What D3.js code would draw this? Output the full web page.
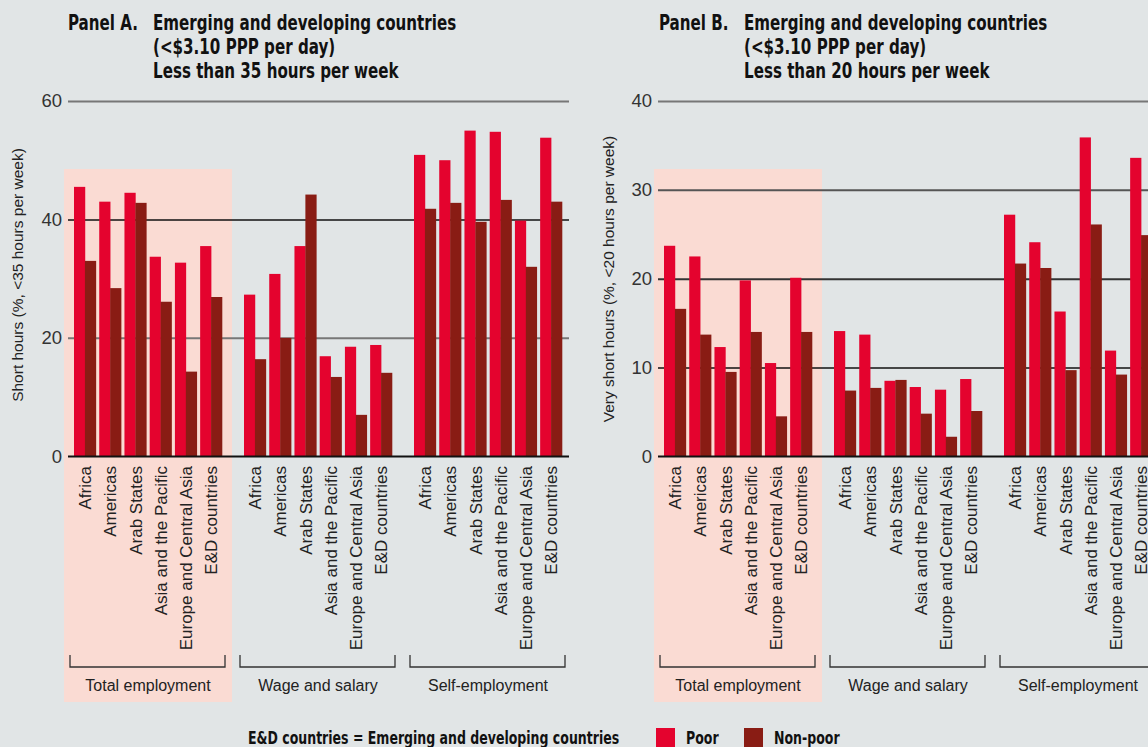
<!DOCTYPE html>
<html><head><meta charset="utf-8">
<script src="https://cdn.jsdelivr.net/npm/d3@7"></script>
<style>
html,body{margin:0;padding:0;background:#e1e5e6;}
svg{display:block;}
</style></head>
<body>
<svg id="chart" width="1148" height="747"></svg>
<script>
// ---------- data ----------
const groups = ["Total employment", "Wage and salary", "Self-employment"];
const regions = ["Africa", "Americas", "Arab States", "Asia and the Pacific", "Europe and Central Asia", "E&D countries"];
const seriesNames = ["Poor", "Non-poor"];

// Panel A: < 35 hours per week (order: Total, Wage, Self; regions in order)
const panelA_poor    = [45.5, 43.0, 44.5, 33.7, 32.7, 35.5,   27.3, 30.8, 35.5, 16.9, 18.5, 18.8,   50.9, 50.0, 55.0, 54.8, 39.8, 53.8];
const panelA_nonpoor = [33.0, 28.4, 42.8, 26.1, 14.3, 26.9,   16.4, 20.0, 44.2, 13.4,  7.0, 14.1,   41.8, 42.8, 39.6, 43.3, 32.0, 43.0];
const panelA_ticks = [0, 20, 40, 60];

// Panel B: < 20 hours per week
const panelB_poor    = [23.7, 22.5, 12.3, 19.8, 10.5, 20.1,   14.1, 13.7,  8.5,  7.8,  7.5,  8.7,   27.2, 24.1, 16.3, 35.9, 11.9, 33.6];
const panelB_nonpoor = [16.6, 13.7,  9.5, 14.0,  4.5, 14.0,    7.4,  7.7,  8.6,  4.8,  2.2,  5.1,   21.7, 21.2,  9.7, 26.1,  9.2, 24.9];
const panelB_ticks = [0, 10, 20, 30, 40];

const colors = {"Poor": "#e4032e", "Non-poor": "#891c14"};
const shadeColor = "#fadbd3";

const svg = d3.select("#chart");
const condensed = "'DejaVu Sans Condensed', 'DejaVu Sans', sans-serif";
const regular = "'Liberation Sans', Arial, sans-serif";
const squeeze = 0.82;

function condText(parent, x, y, str, size) {
  return parent.append("text")
    .attr("transform", `translate(${x},${y}) scale(${squeeze},1)`)
    .attr("font-family", condensed).attr("font-weight", "bold")
    .attr("font-size", size).attr("fill", "#111")
    .text(str);
}

function drawPanel(opts) {
  const g = svg.append("g");
  const y = d3.scaleLinear().domain([0, opts.max]).range([456.3, 101]);
  const gx = d3.scaleBand().domain(groups).range([opts.x0, opts.x0 + 488]).paddingInner(22 / 170).paddingOuter(0);
  const rx = d3.scaleBand().domain(regions).range([0, gx.bandwidth()]).paddingInner(0.134).paddingOuter(0);
  const sx = d3.scaleBand().domain(seriesNames).range([0, rx.bandwidth()]).padding(0);

  // shading for total employment
  g.append("rect")
    .attr("x", gx(groups[0]) - 10).attr("y", 169)
    .attr("width", gx.bandwidth() + 20).attr("height", 702 - 169)
    .attr("fill", shadeColor);

  // gridlines via axis
  const axis = d3.axisLeft(y).tickValues(opts.ticks).tickSize(-(opts.axisEnd - opts.axisStart)).tickPadding(6).tickFormat(d3.format("d"));
  const ag = g.append("g").attr("transform", `translate(${opts.axisStart},0)`).call(axis);
  ag.select(".domain").remove();
  ag.selectAll(".tick line")
    .attr("stroke", d => opts.lineStyle(d).c)
    .attr("stroke-width", d => opts.lineStyle(d).w);
  ag.selectAll(".tick text")
    .attr("fill", "#333").attr("font-family", regular).attr("font-size", 18.5)
    .attr("x", -6);

  // bars
  const data = [];
  groups.forEach((grp, gi) => {
    regions.forEach((reg, ri) => {
      const idx = gi * regions.length + ri;
      data.push({grp, reg, s: "Poor", v: opts.poor[idx]});
      data.push({grp, reg, s: "Non-poor", v: opts.nonpoor[idx]});
    });
  });
  g.append("g").selectAll("rect").data(data).join("rect")
    .attr("x", d => gx(d.grp) + rx(d.reg) + sx(d.s))
    .attr("width", sx.bandwidth() + 0.3)
    .attr("y", d => y(d.v))
    .attr("height", d => y(0) - y(d.v))
    .attr("fill", d => colors[d.s]);

  // zero line over bars
  g.append("line").attr("x1", opts.axisStart).attr("x2", opts.axisEnd)
    .attr("y1", y(0)).attr("y2", y(0)).attr("stroke", "#111").attr("stroke-width", 1.5);

  // category labels
  groups.forEach(grp => {
    regions.forEach(reg => {
      const cx = gx(grp) + rx(reg) + rx.bandwidth() / 2;
      g.append("text")
        .attr("transform", `translate(${cx},466) rotate(-90)`)
        .attr("text-anchor", "end").attr("dy", "0.36em")
        .attr("font-family", regular).attr("font-size", 17).attr("fill", "#222")
        .text(reg);
    });
    // bracket
    const bx0 = gx(grp) - 4, bx1 = gx(grp) + gx.bandwidth() + 3;
    g.append("path")
      .attr("d", `M${bx0},655V667H${bx1}V655`)
      .attr("fill", "none").attr("stroke", "#333").attr("stroke-width", 1.3);
    g.append("text")
      .attr("x", gx(grp) + gx.bandwidth() / 2).attr("y", 691)
      .attr("text-anchor", "middle")
      .attr("font-family", regular).attr("font-size", 16).attr("fill", "#222")
      .text(grp);
  });

  // y axis title
  g.append("text")
    .attr("transform", `translate(${opts.ylabX},${opts.ylabY}) rotate(-90)`)
    .attr("text-anchor", "middle").attr("dy", "0.35em")
    .attr("font-family", regular).attr("font-size", 15.5).attr("fill", "#222")
    .text(opts.ylab);

  // title
  condText(g, opts.titleX, 30, opts.panel, 20.5);
  opts.titleLines.forEach((line, i) => {
    condText(g, opts.titleX + 85, 30 + i * 24, line, 20.5);
  });
}

drawPanel({
  x0: 74, axisStart: 68, axisEnd: 569, max: 60, ticks: panelA_ticks,
  poor: panelA_poor, nonpoor: panelA_nonpoor,
  lineStyle: d => (d === 60 || d === 20) ? {c: "#777", w: 2} : {c: "#111", w: 1.5},
  ylab: "Short hours (%, <35 hours per week)", ylabX: 18, ylabY: 275,
  panel: "Panel A.", titleX: 68,
  titleLines: ["Emerging and developing countries", "(<$3.10 PPP per day)", "Less than 35 hours per week"]
});

drawPanel({
  x0: 664, axisStart: 658, axisEnd: 1160, max: 40, ticks: panelB_ticks,
  poor: panelB_poor, nonpoor: panelB_nonpoor,
  lineStyle: d => d === 40 ? {c: "#777", w: 2} : d === 30 ? {c: "#555", w: 2} : d === 20 ? {c: "#333", w: 2} : {c: "#111", w: 1.5},
  ylab: "Very short hours (%, <20 hours per week)", ylabX: 609, ylabY: 279,
  panel: "Panel B.", titleX: 659,
  titleLines: ["Emerging and developing countries", "(<$3.10 PPP per day)", "Less than 20 hours per week"]
});

// legend
const lg = svg.append("g");
condText(lg, 248, 744, "E&D countries = Emerging and developing countries", 17);
const legendX = [656, 744];
seriesNames.forEach((s, i) => {
  lg.append("rect").attr("x", legendX[i]).attr("y", 728).attr("width", 19).attr("height", 19).attr("fill", colors[s]);
  condText(lg, legendX[i] + 30, 744, s, 17);
});
</script>
</body></html>
